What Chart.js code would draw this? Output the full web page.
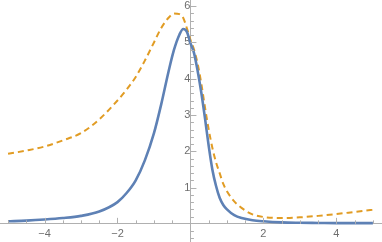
<!DOCTYPE html>
<html>
<head>
<meta charset="utf-8">
<script src="https://cdn.jsdelivr.net/npm/chart.js@4"></script>
<style>
  html, body { margin: 0; padding: 0; background: #fff; }
  #wrap { width: 382px; height: 242px; }
</style>
</head>
<body>
<div id="wrap"><canvas id="plot"></canvas></div>
<script>
// values
const xValues = [-5, -4.5, -4, -3.5, -3, -2.5, -2, -1.75, -1.5, -1.25, -1, -0.8, -0.6, -0.45, -0.3, -0.2, -0.1, 0,
                 0.1, 0.2, 0.3, 0.4, 0.5, 0.6, 0.7, 0.8, 0.9, 1, 1.2, 1.4, 1.7, 2, 2.5, 3, 3.5, 4, 4.5, 5];
const solidValues = [0.07, 0.09, 0.12, 0.16, 0.22, 0.34, 0.6, 0.85, 1.2, 1.75, 2.5, 3.3, 4.2, 4.8, 5.22, 5.37, 5.3, 4.98,
                     4.7, 4.2, 3.6, 2.9, 2.15, 1.5, 1.05, 0.72, 0.52, 0.4, 0.24, 0.16, 0.1, 0.07, 0.04, 0.03, 0.025, 0.02, 0.02, 0.02];
const dashedValues = [1.93, 2.02, 2.13, 2.3, 2.5, 2.88, 3.4, 3.7, 4.05, 4.5, 5.0, 5.4, 5.68, 5.8, 5.78, 5.68, 5.4, 5.07,
                      4.8, 4.4, 3.85, 3.2, 2.6, 2.1, 1.7, 1.4, 1.1, 0.9, 0.62, 0.44, 0.26, 0.19, 0.16, 0.18, 0.22, 0.27, 0.33, 0.39];
const xTickLabels = [-4, -2, 2, 4];
const yTickLabels = [1, 2, 3, 4, 5, 6];

function toPoints(ys) {
    return xValues.map((x, i) => ({ x: x, y: ys[i] }));
}

function fmt(v) {
    return v < 0 ? '\u2212' + Math.abs(v) : String(v);
}

function isLabel(list, v) {
    return list.some(t => Math.abs(t - v) < 1e-6);
}

// axes sit at the origin, so they should not push the plot area inwards
function noPadding(scale) {
    scale.paddingTop = 0;
    scale.paddingBottom = 0;
    scale.paddingLeft = 0;
    scale.paddingRight = 0;
}

// Mathematica-style tick marks pointing into the plot
const tickMarks = {
    id: 'tickMarks',
    afterDatasetsDraw(chart) {
        const ctx = chart.ctx;
        const xs = chart.scales.x, ys = chart.scales.y;
        const x0 = xs.getPixelForValue(0), y0 = ys.getPixelForValue(0);
        ctx.save();
        ctx.strokeStyle = '#b0b0b0';
        ctx.lineWidth = 1;
        ctx.beginPath();
        for (let i = -10; i <= 10; i++) {
            const v = i * 0.5;
            if (v === 0 || v < xs.min || v > xs.max) continue;
            const px = Math.round(xs.getPixelForValue(v)) + 0.5;
            const len = Number.isInteger(v) && v % 2 === 0 ? 6 : 3.5;
            ctx.moveTo(px, y0);
            ctx.lineTo(px, y0 - len);
        }
        for (let i = -2; i <= 31; i++) {
            const v = Math.round(i * 0.2 * 10) / 10;
            if (v === 0 || v < ys.min || v > ys.max) continue;
            const py = Math.round(ys.getPixelForValue(v)) + 0.5;
            const len = Number.isInteger(v) ? 6 : 3.5;
            ctx.moveTo(x0, py);
            ctx.lineTo(x0 + len, py);
        }
        ctx.stroke();
        ctx.restore();
    }
};

const ctx = document.getElementById('plot').getContext('2d');
new Chart(ctx, {
    type: 'line',
    data: {
        datasets: [
            {
                label: 'solid',
                data: toPoints(solidValues),
                borderColor: 'rgb(94, 129, 181)',
                borderWidth: 2.6,
                pointRadius: 0,
                cubicInterpolationMode: 'monotone',
                fill: false
            },
            {
                label: 'dashed',
                data: toPoints(dashedValues),
                borderColor: 'rgb(225, 156, 36)',
                borderWidth: 2,
                borderDash: [6, 4],
                pointRadius: 0,
                cubicInterpolationMode: 'monotone',
                fill: false
            }
        ]
    },
    options: {
        responsive: true,
        maintainAspectRatio: false,
        animation: false,
        layout: { padding: 0 },
        plugins: {
            legend: { display: false },
            tooltip: { enabled: false }
        },
        scales: {
            x: {
                type: 'linear',
                position: { y: 0 },
                min: -5.22,
                max: 5.25,
                afterFit: noPadding,
                grid: { display: true, drawOnChartArea: false, drawTicks: false },
                border: { display: true, color: '#b0b0b0', width: 1 },
                ticks: {
                    stepSize: 1,
                    includeBounds: false,
                    autoSkip: false,
                    maxRotation: 0,
                    padding: 4,
                    color: '#6e6e6e',
                    font: { family: 'Liberation Sans', size: 11 },
                    callback: v => isLabel(xTickLabels, v) ? fmt(v) : ''
                }
            },
            y: {
                type: 'linear',
                position: { x: 0 },
                min: -0.5,
                max: 6.17,
                afterFit: noPadding,
                grid: { display: true, drawOnChartArea: false, drawTicks: false },
                border: { display: true, color: '#b0b0b0', width: 1 },
                ticks: {
                    stepSize: 1,
                    includeBounds: false,
                    autoSkip: false,
                    padding: 4,
                    color: '#6e6e6e',
                    font: { family: 'Liberation Sans', size: 11 },
                    callback: v => isLabel(yTickLabels, v) ? fmt(v) : ''
                }
            }
        }
    },
    plugins: [tickMarks]
});
</script>
</body>
</html>
